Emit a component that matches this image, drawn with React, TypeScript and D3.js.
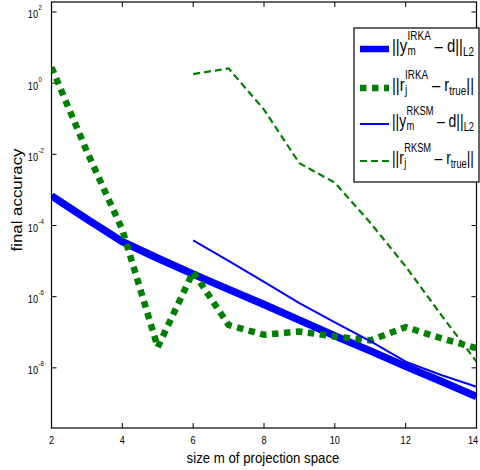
import React from 'react';
import * as d3 from 'd3';

// ---- data ----
const irkaM = [2, 3, 4, 5, 6, 7, 8, 9, 10, 11, 12, 13, 14];
const irkaYErr = [6.8e-4, 1.5e-4, 3.5e-5, 1.2e-5, 4.3e-6, 1.6e-6, 6.0e-7, 2.2e-7, 7.9e-8, 3.0e-8, 1.1e-8, 4.2e-9, 1.55e-9];
const irkaRErr = [2.8, 1.2e-2, 7.6e-5, 3.8e-8, 5.0e-6, 1.6e-7, 8.5e-8, 1.05e-7, 7.6e-8, 5.9e-8, 1.4e-7, 6.8e-8, 3.6e-8];
const rksmM = [6, 7, 8, 9, 10, 11, 12, 13, 14];
const rksmYErr = [3.8e-5, 1.02e-5, 2.6e-6, 6.6e-7, 1.9e-7, 5.6e-8, 1.5e-8, 6.3e-9, 2.95e-9];
const rksmRErr = [1.8, 2.6, 0.18, 5.6e-3, 1.6e-3, 1.2e-4, 7.1e-6, 3.1e-7, 1.5e-8];
const xTicks = [2, 4, 6, 8, 10, 12, 14];
const yTickExps = [-8, -6, -4, -2, 0, 2];
const legendSup = ['IRKA', 'IRKA', 'RKSM', 'RKSM'];
const legendBase = ['y', 'r', 'y', 'r'];
const legendSub = ['m', 'j', 'm', 'j'];
const legendMid = [' \u2013 d||', ' \u2013 r', ' \u2013 d||', ' \u2013 r'];
const legendSub2 = ['L2', 'true', 'L2', 'true'];
const legendEnd = ['', '||', '', '||'];
const xLabel = 'size m of projection space';
const yLabel = 'final accuracy';

const FONT = '"Liberation Sans", Arial, Helvetica, sans-serif';
let ctx: CanvasRenderingContext2D | null = null;
function tw(s: string, size: number): number {
  if (!ctx) ctx = document.createElement('canvas').getContext('2d');
  if (!ctx) return s.length * size * 0.55;
  ctx.font = `${size}px "Liberation Sans"`;
  return ctx.measureText(s).width;
}

const BLUE = '#0000ff';
const GREEN = '#008000';

const styles = [
  { stroke: BLUE, width: 7.5, dash: undefined as string | undefined },
  { stroke: GREEN, width: 6.5, dash: '6.5 5.5' },
  { stroke: BLUE, width: 2, dash: undefined as string | undefined },
  { stroke: GREEN, width: 2.2, dash: '7 4' },
];

export default function App() {
  const W = 480, H = 470;
  const L = 51.5, R = 476.5, T = 2, B = 428;
  const x = d3.scaleLinear().domain([2, 14]).range([L, R]);
  const y = d3.scaleLog().domain([Math.pow(10, -9.69), Math.pow(10, 2.28)]).range([B, T]);
  const line = d3.line<[number, number]>().x(d => x(d[0])).y(d => y(d[1]));

  const series: [number, number][][] = [
    irkaM.map((m, i) => [m, irkaYErr[i]]),
    irkaM.map((m, i) => [m, irkaRErr[i]]),
    rksmM.map((m, i) => [m, rksmYErr[i]]),
    rksmM.map((m, i) => [m, rksmRErr[i]]),
  ];

  const tickLen = 5;
  const legendYs = [49, 88, 124, 161];
  const mainSize = 18, scriptSize = 12;

  const legendItems = legendSup.map((sup, i) => {
    const pre = '||' + legendBase[i];
    const w1 = tw(pre, mainSize);
    const ws = Math.max(tw(sup, scriptSize), tw(legendSub[i], scriptSize));
    const wm = tw(legendMid[i], mainSize);
    const w2 = tw(legendSub2[i], scriptSize);
    const we = tw(legendEnd[i], mainSize);
    const total = w1 + ws + wm + w2 + we;
    const sx = 82 / total;
    const by = legendYs[i] + 3;
    return (
      <g key={i} transform={`translate(392,${by}) scale(${sx},1)`} fontFamily={FONT} fill="#000">
        <text x={0} y={0} fontSize={mainSize} style={{ whiteSpace: 'pre' }}>{pre}</text>
        <text x={w1 + 0.5} y={-12} fontSize={scriptSize}>{sup}</text>
        <text x={w1 + 0.5} y={3} fontSize={scriptSize}>{legendSub[i]}</text>
        <text x={w1 + ws} y={0} fontSize={mainSize} style={{ whiteSpace: 'pre' }}>{legendMid[i]}</text>
        <text x={w1 + ws + wm} y={4} fontSize={scriptSize}>{legendSub2[i]}</text>
        <text x={w1 + ws + wm + w2} y={0} fontSize={mainSize}>{legendEnd[i]}</text>
      </g>
    );
  });

  const xlw = tw(xLabel, 15);
  const ylw = tw(yLabel, 15);

  return (
    <svg width={W} height={H} style={{ position: 'absolute', left: 0, top: 0, background: '#fff' }}>
      <defs>
        <clipPath id="plotclip">
          <rect x={L} y={T} width={R - L} height={B - T} />
        </clipPath>
      </defs>
      <rect x={0} y={0} width={W} height={H} fill="#fff" />
      <rect x={L} y={T} width={R - L} height={B - T} fill="none" stroke="#000" strokeWidth={1.2} />
      {xTicks.map(t => (
        <g key={'xt' + t}>
          <line x1={x(t)} x2={x(t)} y1={B} y2={B - tickLen} stroke="#000" strokeWidth={1} />
          <line x1={x(t)} x2={x(t)} y1={T} y2={T + tickLen} stroke="#000" strokeWidth={1} />
          <text transform={`translate(${Math.min(x(t), 473)},${B + 16}) scale(0.8,1)`} textAnchor="middle" fontSize={11.5} fontFamily={FONT} fill="#000">{t}</text>
        </g>
      ))}
      {yTickExps.map(e => {
        const yy = y(Math.pow(10, e));
        return (
          <g key={'yt' + e}>
            <line x1={L} x2={L + tickLen} y1={yy} y2={yy} stroke="#000" strokeWidth={1} />
            <line x1={R} x2={R - tickLen} y1={yy} y2={yy} stroke="#000" strokeWidth={1} />
            <text transform={`translate(38,${yy + 6.5}) scale(0.8,1)`} textAnchor="end" fontSize={11.5} fontFamily={FONT} fill="#000">10</text>
            <text transform={`translate(38.5,${yy - 1.5}) scale(0.8,1)`} textAnchor="start" fontSize={7.5} fontFamily={FONT} fill="#000">{String(e)}</text>
          </g>
        );
      })}
      <g clipPath="url(#plotclip)">
        {series.map((s, i) => (
          <path key={'s' + i} d={line(s) || ''} fill="none" stroke={styles[i].stroke} strokeWidth={styles[i].width}
            strokeDasharray={styles[i].dash} strokeLinejoin="miter" strokeLinecap="butt" />
        ))}
      </g>
      <rect x={354} y={28} width={125} height={154} fill="#fff" stroke="#000" strokeWidth={1.2} />
      {styles.map((st, i) => (
        <line key={'ls' + i} x1={360} x2={389} y1={legendYs[i]} y2={legendYs[i]} stroke={st.stroke}
          strokeWidth={i === 0 ? 6.5 : st.width} strokeDasharray={st.dash} />
      ))}
      {legendItems}
      <text transform={`translate(263,463) scale(${153 / xlw},1)`} textAnchor="middle" fontSize={15} fontFamily={FONT} fill="#000">{xLabel}</text>
      <text transform={`translate(22,200) rotate(-90) scale(${103 / ylw},1)`} textAnchor="middle" fontSize={15} fontFamily={FONT} fill="#000">{yLabel}</text>
    </svg>
  );
}
